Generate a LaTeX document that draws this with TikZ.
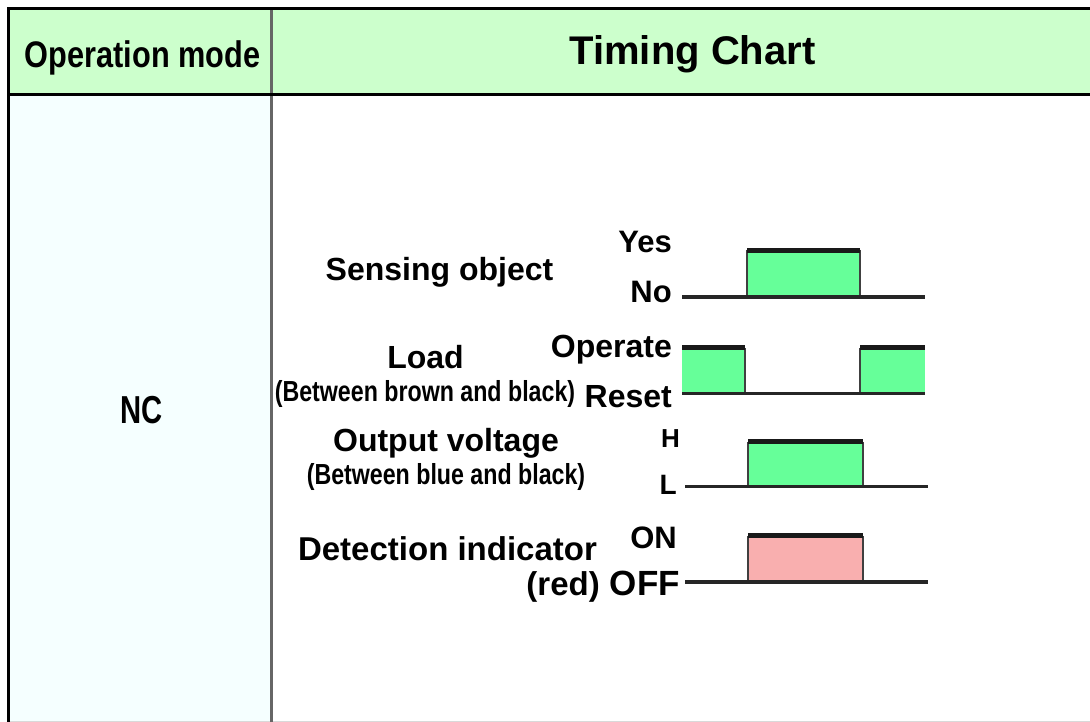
\documentclass[tikz,border=0pt]{standalone}
\usepackage{fontspec}
\setmainfont{Liberation Sans}
\newcommand\myfs[1]{\fontsize{#1}{#1}\selectfont}
\definecolor{hdrgreen}{HTML}{CCFFCC}
\definecolor{leftbg}{HTML}{F5FFFF}
\definecolor{pgreen}{HTML}{66FF99}
\definecolor{ppink}{HTML}{F9AFAF}
\definecolor{sepgray}{HTML}{666666}
\begin{document}
\begin{tikzpicture}[x=1pt,y=-1pt,
  lbl/.style={inner sep=0pt, font=\bfseries, anchor=base},
  lblr/.style={lbl, anchor=base east},
  wtop/.style={line width=5pt, draw=black!90},
  wbase/.style={line width=3.2pt, draw=black!85},
  wside/.style={line width=2.2pt, draw=black!75},
]
\useasboundingbox (0,0) rectangle (1090,722);
\fill[white] (0,0) rectangle (1090,722);
% table
\fill[hdrgreen] (9,9) rectangle (1090,95);
\fill[leftbg] (9,95) rectangle (271,722);
\draw[line width=1pt, black!15] (9,721.5) -- (1090,721.5);
\draw[line width=3pt, sepgray] (271,9) -- (271,722);
\draw[line width=3pt] (8.5,722) -- (8.5,8.5) -- (1090,8.5);
\draw[line width=3pt] (8.5,94.5) -- (1090,94.5);
% header texts
\node[lbl] (hmode) at (142.5,68) {\scalebox{0.83}[1]{\myfs{37}Operation mode}};
\node[lbl] (htiming) at (692.5,65) {\myfs{40}Timing Chart};
\node[lbl] (nc) at (142,423) {\scalebox{0.75}[1]{\myfs{39}NC}};
% signal names
\node[lbl] (sens) at (439.5,280) {\myfs{32}Sensing object};
\node[lbl] (load) at (425.5,368) {\myfs{32}Load};
\node[lbl] (loadsub) at (425,401) {\scalebox{0.8}[1]{\myfs{29}(Between brown and black)}};
\node[lbl] (outv) at (446,451) {\myfs{32}Output voltage};
\node[lbl] (outvsub) at (446,484) {\scalebox{0.8}[1]{\myfs{29}(Between blue and black)}};
\node[lbl] (det) at (447.5,560) {\myfs{33}Detection indicator};
\node[lblr] (detsub) at (600,595) {\myfs{33}(red)};
% level labels
\node[lblr] (yes) at (672,253) {\myfs{31}Yes};
\node[lblr] (no) at (672,302) {\myfs{31}No};
\node[lblr] (oper) at (672,357) {\myfs{32}Operate};
\node[lblr] (reset) at (672,407) {\myfs{32}Reset};
\node[lblr] (hi) at (680,447) {\myfs{26}H};
\node[lblr] (lo) at (677,494) {\myfs{28}L};
\node[lblr] (on) at (677,548) {\myfs{31}ON};
\node[lblr] (off) at (680,595) {\myfs{35}OFF};
% Sensing object waveform
\fill[pgreen] (747,250) rectangle (860,297);
\draw[wside] (747,297) -- (747,250) (860,250) -- (860,297);
\draw[wtop] (747,250.5) -- (860,250.5);
\draw[wbase] (682,297) -- (925,297);
% Load waveform
\fill[pgreen] (682,348) rectangle (745,393);
\fill[pgreen] (860,348) rectangle (925,393);
\draw[wside] (745,348) -- (745,393) (860,393) -- (860,348);
\draw[wtop] (682,347.5) -- (745,347.5) (860,347.5) -- (925,347.5);
\draw[wbase] (682,393.5) -- (925,393.5);
% Output voltage waveform
\fill[pgreen] (748,442) rectangle (863,487);
\draw[wside] (748,487) -- (748,442) (863,442) -- (863,487);
\draw[wtop] (748,441.5) -- (863,441.5);
\draw[wbase] (685,486.5) -- (928,486.5);
% Detection indicator waveform
\fill[ppink] (748,536) rectangle (863,582);
\draw[wside] (748,582) -- (748,536) (863,536) -- (863,582);
\draw[wtop] (748,535.5) -- (863,535.5);
\draw[wbase] (685,582) -- (928,582);
\end{tikzpicture}
\end{document}
